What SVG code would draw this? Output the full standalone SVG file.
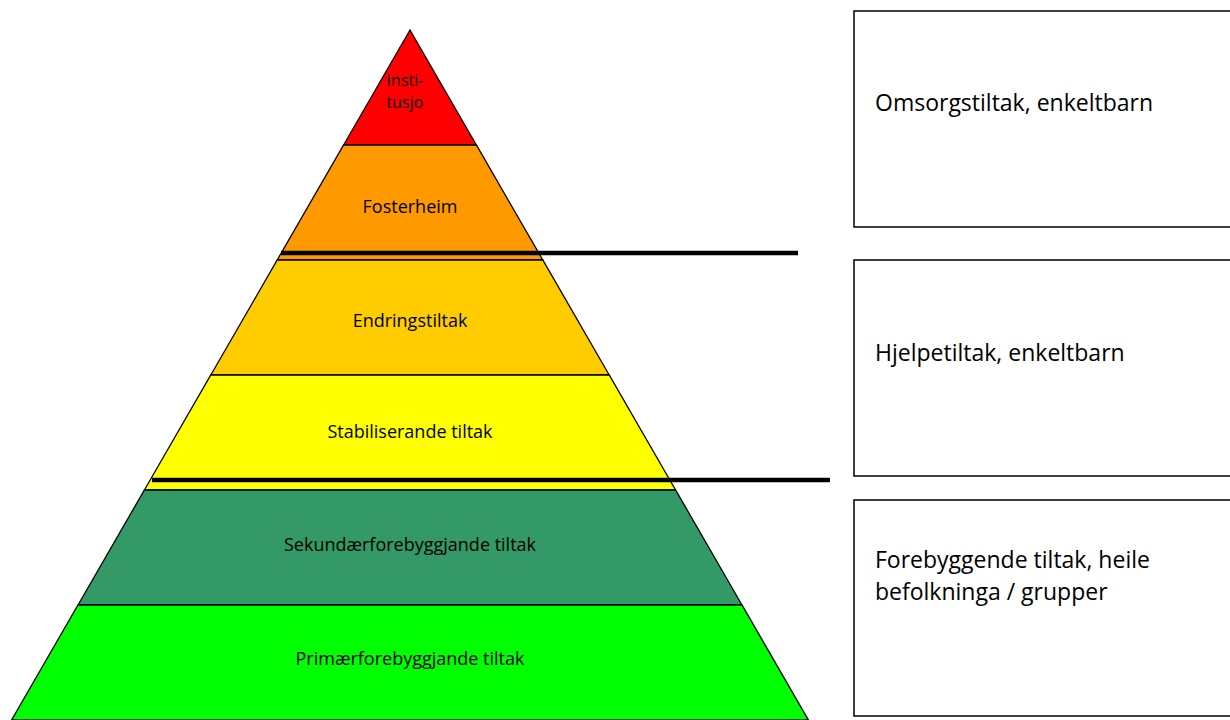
<svg xmlns="http://www.w3.org/2000/svg" width="1230" height="720" viewBox="0 0 1230 720">
<style>
.band{stroke:#000;stroke-width:1.3}
.lbl{font-family:"Open Sans","Liberation Sans",sans-serif;font-size:18px;fill:#000;text-anchor:middle}
.box{fill:#fff;stroke:#000;stroke-width:1.5}
.btxt{font-family:"Open Sans","Liberation Sans",sans-serif;font-size:23px;fill:#000}
.div{stroke:#000;stroke-width:4.5}
</style>
<rect width="1230" height="720" fill="#fff"/>
<g id="band-institusjon"><polygon class="band" fill="#FF0000" points="410,30 476.4,145 343.6,145"/>
<text class="lbl" style="font-size:16px" x="405" y="86">Insti-</text><text class="lbl" style="font-size:16px" x="405" y="108">tusjo</text></g>
<g id="band-fosterheim"><polygon class="band" fill="#FF9900" points="343.6,145 476.4,145 542.8,260 277.2,260"/>
<text class="lbl" x="410" y="213">Fosterheim</text></g>
<g id="band-endring"><polygon class="band" fill="#FFCC00" points="277.2,260 542.8,260 609.2,375 210.8,375"/>
<text class="lbl" x="410" y="327">Endringstiltak</text></g>
<g id="band-stabil"><polygon class="band" fill="#FFFF00" points="210.8,375 609.2,375 675.6,490 144.4,490"/>
<text class="lbl" x="410" y="438">Stabiliserande tiltak</text></g>
<g id="band-sekundar"><polygon class="band" fill="#339966" points="144.4,490 675.6,490 742,605 78,605"/>
<text class="lbl" x="410" y="551">Sekundærforebyggjande tiltak</text></g>
<g id="band-primar"><polygon class="band" fill="#00FF00" points="78,605 742,605 808.4,720 11.6,720"/>
<text class="lbl" x="410" y="665">Primærforebyggjande tiltak</text></g>
<g id="connectors">
<line class="div" x1="281" y1="253" x2="798" y2="253"/>
<line class="div" x1="152" y1="480" x2="830" y2="480"/>
</g>
<g id="box-omsorg"><rect class="box" x="854" y="11" width="380" height="216"/>
<text class="btxt" x="875" y="111">Omsorgstiltak, enkeltbarn</text></g>
<g id="box-hjelpe"><rect class="box" x="854" y="260" width="380" height="216"/>
<text class="btxt" x="875" y="361">Hjelpetiltak, enkeltbarn</text></g>
<g id="box-forebygg"><rect class="box" x="854" y="500" width="380" height="216"/>
<text class="btxt" x="875" y="568">Forebyggende tiltak, heile</text>
<text class="btxt" x="875" y="600">befolkninga / grupper</text></g>
</svg>
